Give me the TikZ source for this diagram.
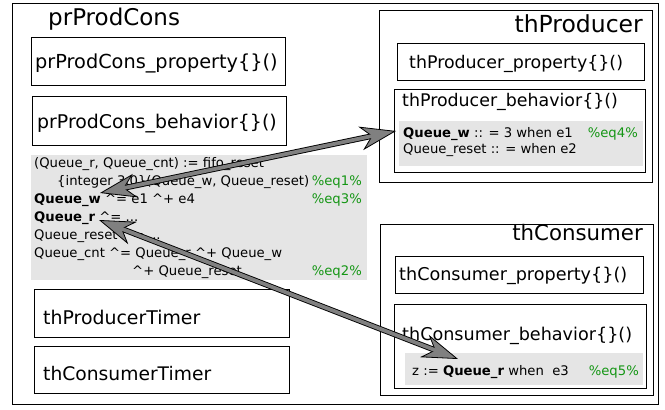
\documentclass[tikz,border=0pt]{standalone}
\usepackage{fontspec}
\setmainfont{DejaVu Sans}
\usetikzlibrary{arrows.meta}
\definecolor{eqgreen}{RGB}{20,150,20}
\definecolor{codebg}{RGB}{229,229,229}
\definecolor{arrowgray}{RGB}{128,128,128}
\newcommand\setfs[1]{\fontsize{#1}{#1}\selectfont}
\begin{document}
\begin{tikzpicture}[x=1pt,y=-1pt,
  frame/.style={draw=black, line width=1pt},
  gbox/.style={fill=codebg},
  lbl/.style={anchor=base west, inner sep=0pt},
  rlbl/.style={anchor=base east, inner sep=0pt},
  code/.style={lbl, font=\setfs{13.2}},
  eq/.style={rlbl, font=\setfs{13.2}, text=eqgreen},
  arrowouter/.style={line width=5.6pt, draw=black,
    {Stealth[length=36pt,width=24pt,inset=11pt,fill=arrowgray,line width=0.8pt]}-{Stealth[length=36pt,width=24pt,inset=11pt,fill=arrowgray,line width=0.8pt]}},
  arrowinner/.style={line width=3.8pt, draw=arrowgray, shorten <=22pt, shorten >=22pt}
]
\useasboundingbox (0,0) rectangle (665,410);
\fill[white] (0,0) rectangle (665,410);

% outer frame
\draw[frame] (12,3) rectangle (658,404);

% prProdCons
\node[lbl, font=\setfs{23}] (prtitle) at (48,25) {prProdCons};
\draw[frame] (31,37) rectangle (285,85);
\node[lbl, font=\setfs{19.3}] (prprop) at (35,68) {prProdCons\_property\{\}()};
\draw[frame] (32,96) rectangle (286,145);
\node[lbl, font=\setfs{18.9}] (prbeh) at (37,128) {prProdCons\_behavior\{\}()};

% code block
\fill[gbox] (31,155) rectangle (367,280);
\node[code] (c1) at (34,167) {(Queue\_r, Queue\_cnt) := fifo\_reset};
\node[code] (c2) at (57,185) {\{integer 3,0\}(Queue\_w, Queue\_reset)};
\node[eq] (e1) at (362,185) {\%eq1\%};
\node[code] (c3) at (34,203) {\textbf{Queue\_w} \textasciicircum= e1 \textasciicircum+ e4};
\node[eq] (e3) at (362,203) {\%eq3\%};
\node[code] (c4) at (34,221) {\textbf{Queue\_r} \textasciicircum= ...};
\node[code] (c5) at (34,239) {Queue\_reset \textasciicircum= ...};
\node[code] (c6) at (34,257) {Queue\_cnt \textasciicircum= Queue\_r \textasciicircum+ Queue\_w};
\node[code] (c7) at (132,275) {\textasciicircum+ Queue\_reset};
\node[eq] (e2) at (362,275) {\%eq2\%};

% timers
\draw[frame] (34,289) rectangle (289,337);
\node[lbl, font=\setfs{18.9}] (ptimer) at (43,324) {thProducerTimer};
\draw[frame] (34,346) rectangle (289,393);
\node[lbl, font=\setfs{18.7}] (ctimer) at (43,380) {thConsumerTimer};

% thProducer
\draw[frame] (379,10) rectangle (652,182);
\node[rlbl, font=\setfs{23.5}] (ptitle) at (643,32) {thProducer};
\draw[frame] (397,43) rectangle (644,80);
\node[lbl, font=\setfs{17.4}] (pprop) at (409,68) {thProducer\_property\{\}()};
\draw[frame] (394,89) rectangle (645,172);
\node[lbl, font=\setfs{17.4}] (pbeh) at (402,106) {thProducer\_behavior\{\}()};
\fill[gbox] (399,121) rectangle (643,166);
\node[code] (p1) at (403,137) {\textbf{Queue\_w} :: = 3 when e1};
\node[eq] (e4) at (638,137) {\%eq4\%};
\node[code] (p2) at (403,153) {Queue\_reset :: = when e2};

% thConsumer
\draw[frame] (380,224) rectangle (653,395);
\node[rlbl, font=\setfs{21.3}] (ctitle) at (643,240) {thConsumer};
\draw[frame] (395,256) rectangle (643,293);
\node[lbl, font=\setfs{17.6}] (cprop) at (399,280) {thConsumer\_property\{\}()};
\draw[frame] (394,304) rectangle (646,388);
\node[lbl, font=\setfs{17.6}] (cbeh) at (402,340) {thConsumer\_behavior\{\}()};
\fill[gbox] (405,353) rectangle (643,385);
\node[code] (z1) at (412,375) {z := \textbf{Queue\_r} when\ \ e3};
\node[eq] (e5) at (639,375) {\%eq5\%};

% arrow end points
\coordinate (qw) at (100,193);
\coordinate (pw) at (396,131);
\coordinate (qr) at (99,220);
\coordinate (cr) at (458,359);

% arrows
\draw[arrowouter] (qw) -- (pw);
\draw[arrowinner] (qw) -- (pw);
\draw[arrowouter] (qr) -- (cr);
\draw[arrowinner] (qr) -- (cr);
\end{tikzpicture}
\end{document}
